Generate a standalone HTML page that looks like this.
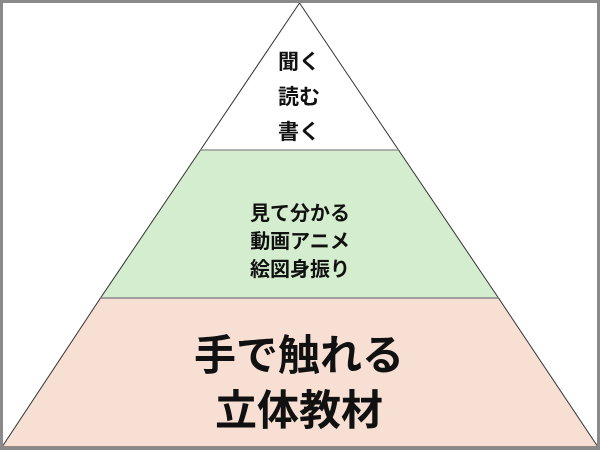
<!DOCTYPE html>
<html><head><meta charset="utf-8"><style>
html,body{margin:0;padding:0;background:#fff;}
svg{display:block;}
text{font-family:"Liberation Sans","Noto Sans CJK JP",sans-serif;font-weight:bold;fill:#111;}
</style></head><body>
<svg width="600" height="450" viewBox="0 0 600 450" xmlns="http://www.w3.org/2000/svg">
<rect x="0" y="0" width="600" height="450" fill="#fff"/>
<polygon points="299.5,3 398.5,150 200.5,150" fill="#fff" stroke="#333" stroke-width="1"/>
<polygon points="200.5,150 398.5,150 498.5,298 100.5,298" fill="#d5edcf" stroke="#333" stroke-width="1"/>
<line x1="200.5" y1="150" x2="398.5" y2="150" stroke="#999" stroke-width="1.5"/>
<polygon points="100.5,298 498.5,298 598,447 2,447" fill="#f8dfd3" stroke="#333" stroke-width="1"/>
<line x1="100.5" y1="298" x2="498.5" y2="298" stroke="#888" stroke-width="1.5"/>
<rect x="1.5" y="1.5" width="597" height="447" fill="none" stroke="#8a8a8a" stroke-width="3"/>
<g text-anchor="middle" font-size="21">
<text x="299" y="69">聞く</text>
<text x="299" y="104">読む</text>
<text x="299" y="139">書く</text>
</g>
<g text-anchor="middle" font-size="20">
<text x="300" y="220">見て分かる</text>
<text x="300" y="248">動画アニメ</text>
<text x="300" y="276">絵図身振り</text>
</g>
<g text-anchor="middle" font-size="42">
<text x="299" y="370">手で触れる</text>
<text x="299" y="425">立体教材</text>
</g>
</svg>
</body></html>
